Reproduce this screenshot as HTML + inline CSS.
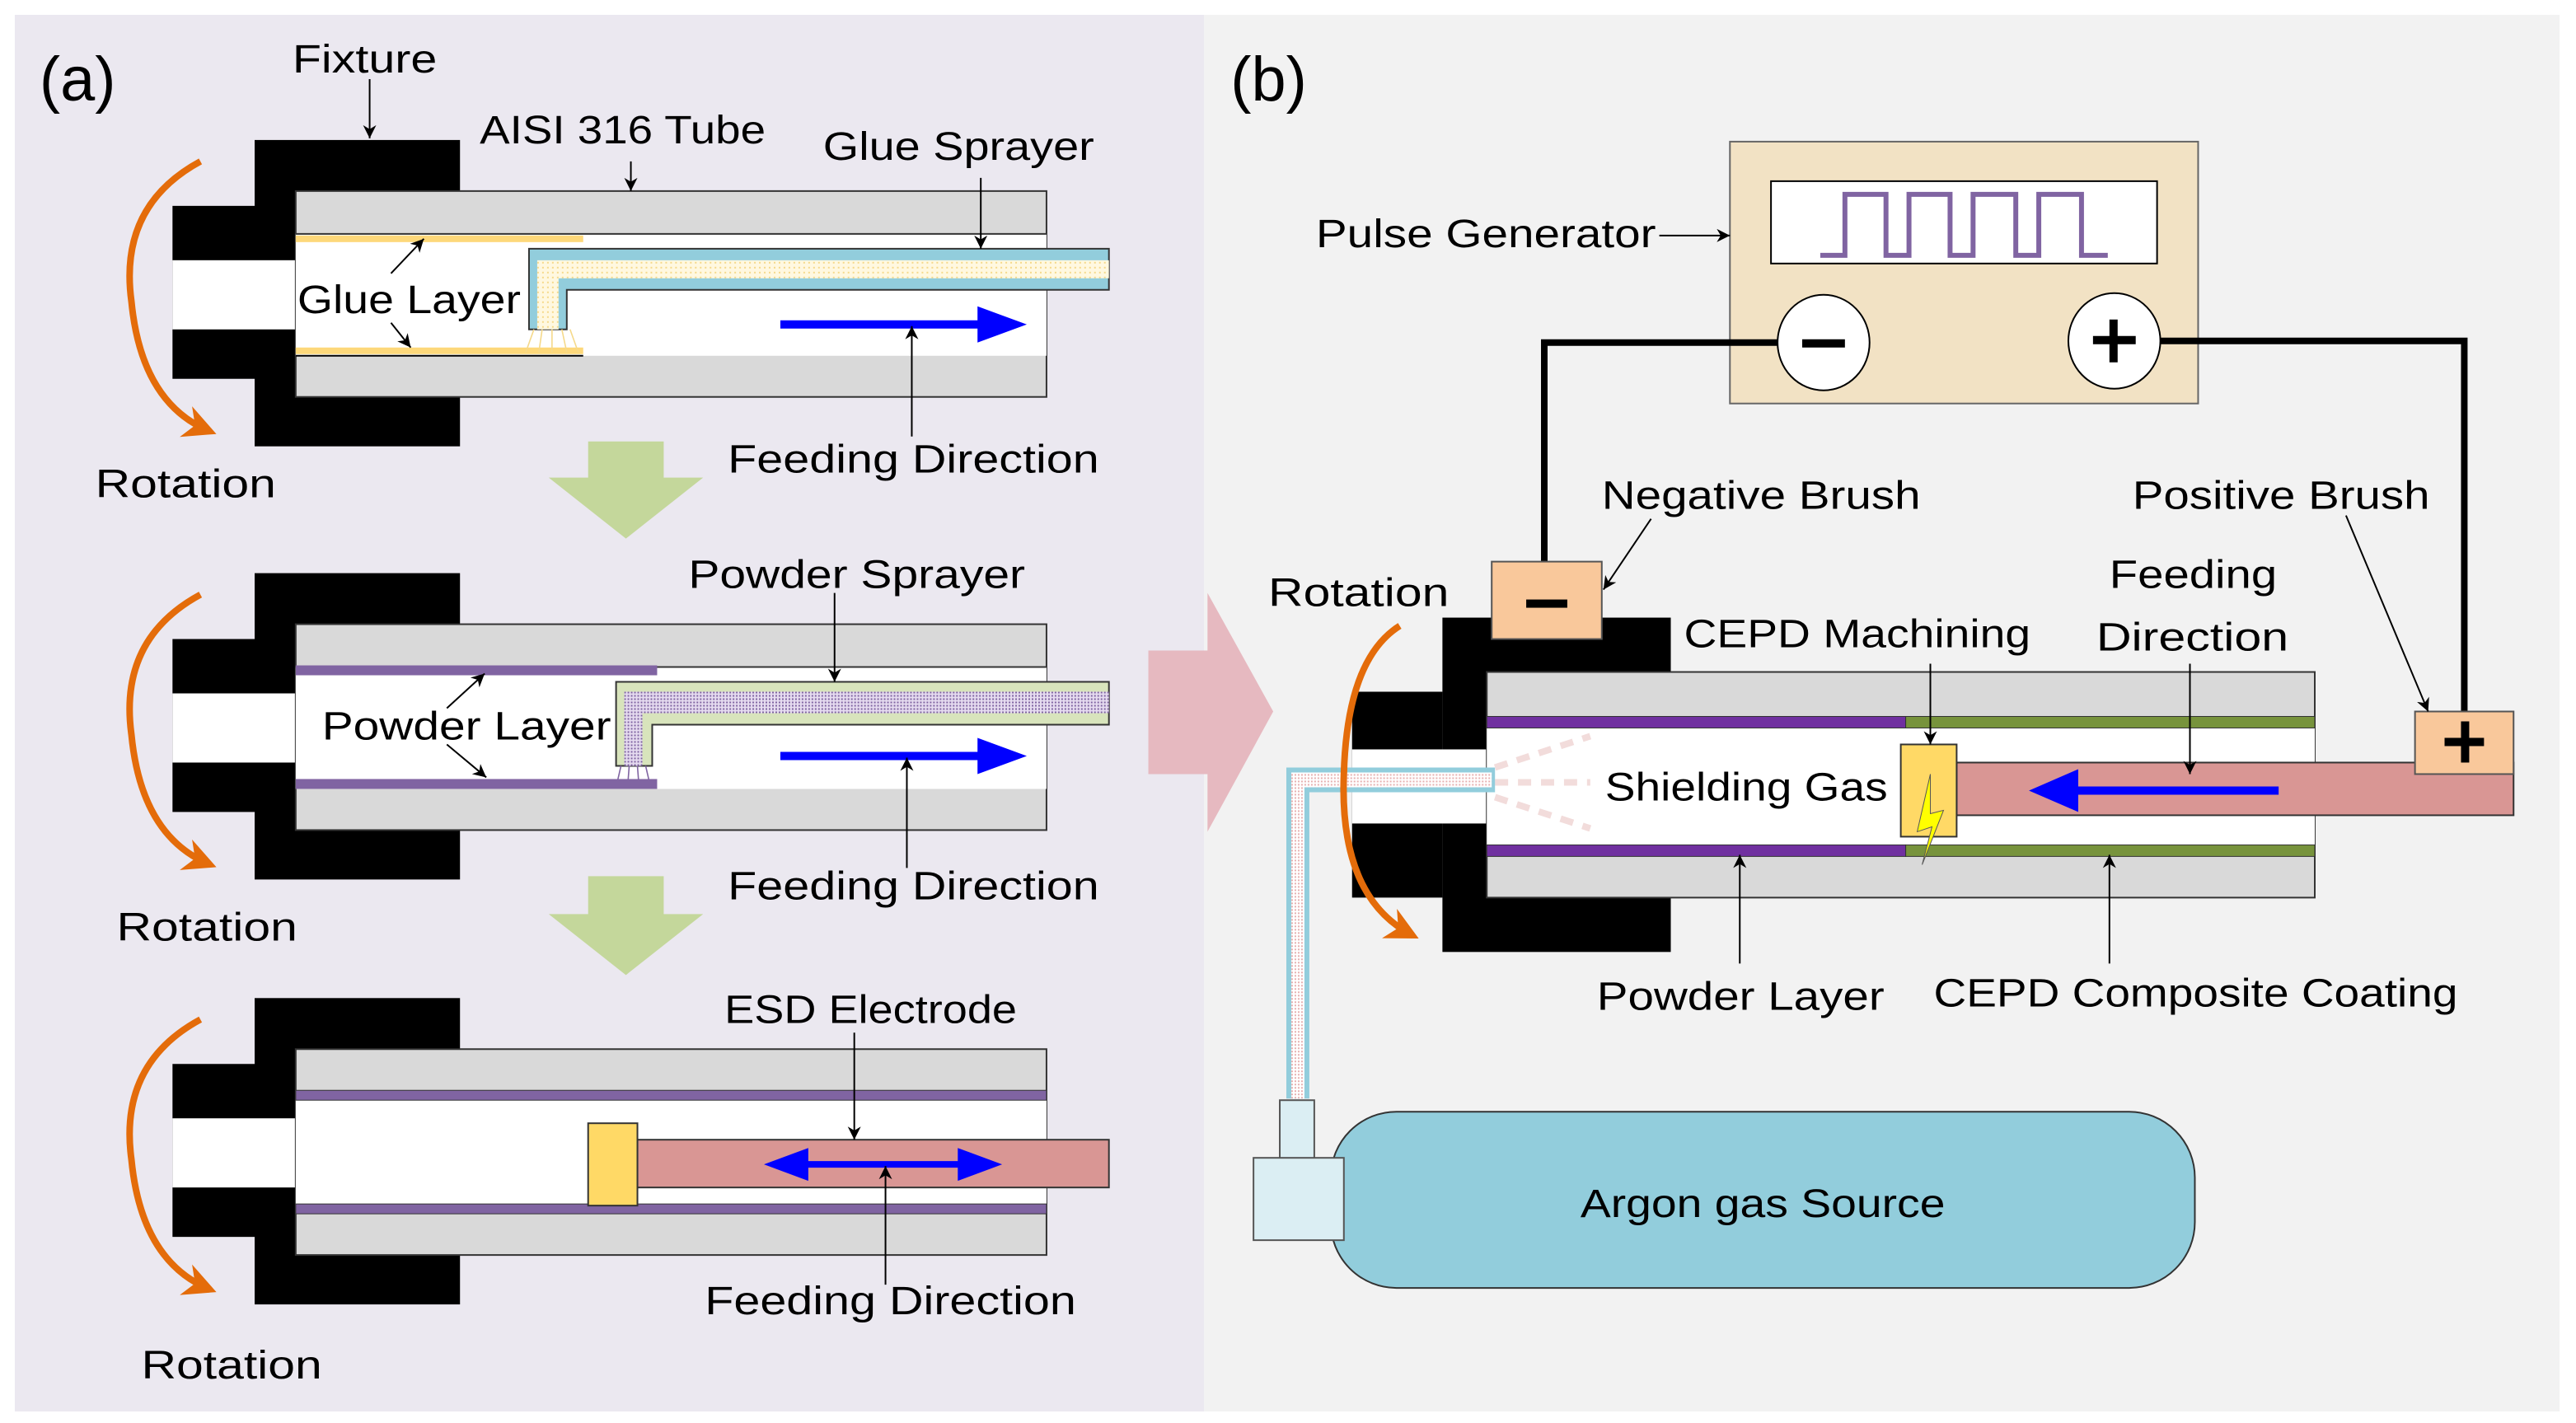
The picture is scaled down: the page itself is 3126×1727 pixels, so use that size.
<!DOCTYPE html>
<html><head><meta charset="utf-8"><style>
html,body{margin:0;padding:0;background:#fff;}
svg{display:block;}
text{font-family:"Liberation Sans",sans-serif;font-size:24px;fill:#000;}
</style></head><body>
<svg width="3126" height="1727" viewBox="0 0 1568 864" preserveAspectRatio="none" xmlns="http://www.w3.org/2000/svg">
<defs>
<marker id="ah" viewBox="0 0 10 10" refX="10" refY="5" markerWidth="8" markerHeight="10" orient="auto" markerUnits="userSpaceOnUse"><path d="M0,0 L10,5 L0,10 L3,5 z" fill="#000"/></marker>
<marker id="oh" viewBox="0 0 10 10" refX="8" refY="5" markerWidth="20" markerHeight="20" orient="auto" markerUnits="userSpaceOnUse"><path d="M0,0 L10,5 L0,10 L3,5 z" fill="#e46c0a"/></marker>
<pattern id="dots" width="3" height="3" patternUnits="userSpaceOnUse"><rect width="3" height="3" fill="#fff8e0"/><rect width="1" height="1" fill="#f5d98a"/></pattern>
<pattern id="pdots" width="2" height="2" patternUnits="userSpaceOnUse"><rect width="2" height="2" fill="#e6dcf0"/><rect width="1" height="1" fill="#8064a2"/></pattern>
<pattern id="rdots" width="2" height="2" patternUnits="userSpaceOnUse"><rect width="2" height="2" fill="#fff"/><rect width="1" height="1" fill="#e6b0b0"/></pattern>
<g id="fix">
<rect x="155" y="85" width="125" height="186" fill="#000"/>
<rect x="105" y="125" width="60" height="105" fill="#000"/>
<rect x="105" y="158" width="76" height="42" fill="#fff"/>
<path d="M122,98 Q72,125 80,183 Q86,245 128,262" fill="none" stroke="#e46c0a" stroke-width="4" marker-end="url(#oh)"/>
</g>
<g id="tube">
<rect x="180" y="116" width="457" height="125" fill="#d9d9d9" stroke="#333" stroke-width="1"/>
<rect x="180" y="142" width="457" height="74" fill="#fff"/>
<line x1="180" y1="142" x2="637" y2="142" stroke="#333" stroke-width="1"/>
</g>
</defs>
<rect x="0" y="0" width="1568" height="864" fill="#fff"/>
<rect x="9" y="9" width="724" height="848" fill="#ebe8f0"/>
<rect x="733" y="9" width="825" height="848" fill="#f2f2f2"/>

<use href="#fix"/>
<use href="#tube"/>
<rect x="180" y="143" width="175" height="4" fill="#fdd87a"/>
<rect x="180" y="211" width="175" height="4" fill="#fdd87a"/>
<line x1="180" y1="216" x2="355" y2="216" stroke="#000" stroke-width="1"/>
<path d="M322,151 H675 V176 H345 V200 H322 Z" fill="#92cddc" stroke="#333" stroke-width="1"/>
<path d="M327,158 H675 V169 H340 V200 H327 Z" fill="url(#dots)"/>
<g stroke="#f5d98a" stroke-width="0.8"><line x1="325" y1="200" x2="320" y2="214"/><line x1="330" y1="200" x2="328" y2="214"/><line x1="336" y1="200" x2="336" y2="214"/><line x1="342" y1="200" x2="345" y2="214"/><line x1="347" y1="200" x2="352" y2="214"/></g>
<line x1="475" y1="197" x2="598" y2="197" stroke="#0000ff" stroke-width="5"/>
<path d="M595,186 L625,197 L595,208 Z" fill="#0000ff"/>
<line x1="225" y1="48" x2="225" y2="84" stroke="#000" marker-end="url(#ah)"/>
<line x1="384" y1="98" x2="384" y2="116" stroke="#000" marker-end="url(#ah)"/>
<line x1="597" y1="108" x2="597" y2="151" stroke="#000" marker-end="url(#ah)"/>
<line x1="555" y1="265" x2="555" y2="198" stroke="#000" marker-end="url(#ah)"/>
<line x1="238" y1="166" x2="258" y2="145" stroke="#000" marker-end="url(#ah)"/>
<line x1="238" y1="196" x2="250" y2="211" stroke="#000" marker-end="url(#ah)"/>
<text x="24" y="61" style="font-size:38px">(a)</text>
<text x="178" y="44" textLength="88" lengthAdjust="spacingAndGlyphs">Fixture</text>
<text x="292" y="87" textLength="174" lengthAdjust="spacingAndGlyphs">AISI 316 Tube</text>
<text x="501" y="97" textLength="165" lengthAdjust="spacingAndGlyphs">Glue Sprayer</text>
<text x="181" y="190" textLength="136" lengthAdjust="spacingAndGlyphs">Glue Layer</text>
<text x="443" y="287" textLength="226" lengthAdjust="spacingAndGlyphs">Feeding Direction</text>
<text x="58" y="302" textLength="110" lengthAdjust="spacingAndGlyphs">Rotation</text>

<path d="M358,268 H404 V290 H428 L381,327 L334,290 H358 Z" fill="#c4d79b"/>
<path d="M358,532 H404 V555 H428 L381,592 L334,555 H358 Z" fill="#c4d79b"/>

<g transform="translate(0,263)"><use href="#fix"/><use href="#tube"/></g>
<rect x="180" y="404" width="220" height="6" fill="#8064a2"/>
<rect x="180" y="473" width="220" height="6" fill="#8064a2"/>
<path d="M375,414 H675 V440 H397 V465 H375 Z" fill="#d8e4bc" stroke="#333" stroke-width="1"/>
<path d="M380,420 H675 V433 H391 V465 H380 Z" fill="url(#pdots)"/>
<g stroke="#8064a2" stroke-width="0.8"><line x1="378" y1="465" x2="375" y2="478"/><line x1="383" y1="465" x2="382" y2="478"/><line x1="388" y1="465" x2="389" y2="478"/><line x1="393" y1="465" x2="396" y2="478"/></g>
<line x1="475" y1="459" x2="598" y2="459" stroke="#0000ff" stroke-width="5"/>
<path d="M595,448 L625,459 L595,470 Z" fill="#0000ff"/>
<line x1="508" y1="360" x2="508" y2="414" stroke="#000" marker-end="url(#ah)"/>
<line x1="552" y1="527" x2="552" y2="460" stroke="#000" marker-end="url(#ah)"/>
<line x1="272" y1="430" x2="295" y2="409" stroke="#000" marker-end="url(#ah)"/>
<line x1="272" y1="452" x2="296" y2="472" stroke="#000" marker-end="url(#ah)"/>
<text x="419" y="357" textLength="205" lengthAdjust="spacingAndGlyphs">Powder Sprayer</text>
<text x="196" y="449" textLength="176" lengthAdjust="spacingAndGlyphs">Powder Layer</text>
<text x="443" y="546" textLength="226" lengthAdjust="spacingAndGlyphs">Feeding Direction</text>
<text x="71" y="571" textLength="110" lengthAdjust="spacingAndGlyphs">Rotation</text>

<g transform="translate(0,521)"><use href="#fix"/><use href="#tube"/></g>
<rect x="180" y="662" width="457" height="6" fill="#8064a2" stroke="#333" stroke-width="0.5"/>
<rect x="180" y="731" width="457" height="6" fill="#8064a2" stroke="#333" stroke-width="0.5"/>
<rect x="388" y="692" width="287" height="29" fill="#d99694" stroke="#333" stroke-width="1"/>
<rect x="358" y="682" width="30" height="50" fill="#ffd966" stroke="#333" stroke-width="1"/>
<line x1="485" y1="707" x2="590" y2="707" stroke="#0000ff" stroke-width="4"/>
<path d="M492,697 L465,707 L492,717 Z" fill="#0000ff"/>
<path d="M583,697 L610,707 L583,717 Z" fill="#0000ff"/>
<line x1="520" y1="627" x2="520" y2="692" stroke="#000" marker-end="url(#ah)"/>
<line x1="539" y1="780" x2="539" y2="708" stroke="#000" marker-end="url(#ah)"/>
<text x="441" y="621" textLength="178" lengthAdjust="spacingAndGlyphs">ESD Electrode</text>
<text x="429" y="798" textLength="226" lengthAdjust="spacingAndGlyphs">Feeding Direction</text>
<text x="86" y="837" textLength="110" lengthAdjust="spacingAndGlyphs">Rotation</text>

<path d="M699,395 H735 V360 L775,432 L735,505 V470 H699 Z" fill="#e6b9c0"/>

<text x="749" y="61" style="font-size:38px">(b)</text>
<rect x="1053" y="86" width="285" height="159" fill="#f2e2c4" stroke="#666" stroke-width="1"/>
<rect x="1078" y="110" width="235" height="50" fill="#fff" stroke="#000" stroke-width="1"/>
<path d="M1108,155 H1123 V118 H1148 V155 H1162 V118 H1187 V155 H1201 V118 H1227 V155 H1241 V118 H1267 V155 H1283" fill="none" stroke="#8064a2" stroke-width="3"/>
<path d="M1082,208 H940 V341" fill="none" stroke="#000" stroke-width="4"/>
<path d="M1315,207 H1500 V432" fill="none" stroke="#000" stroke-width="4"/>
<ellipse cx="1110" cy="208" rx="28" ry="29" fill="#fff" stroke="#000" stroke-width="1"/>
<rect x="1097" y="206" width="26" height="5" fill="#000"/>
<ellipse cx="1287" cy="207" rx="28" ry="29" fill="#fff" stroke="#000" stroke-width="1"/>
<rect x="1274" y="204" width="26" height="5" fill="#000"/><rect x="1284" y="194" width="5" height="26" fill="#000"/>
<line x1="1010" y1="143" x2="1053" y2="143" stroke="#000" marker-end="url(#ah)"/>
<text x="801" y="150" textLength="207" lengthAdjust="spacingAndGlyphs">Pulse Generator</text>

<rect x="878" y="375" width="139" height="203" fill="#000"/>
<rect x="823" y="420" width="55" height="125" fill="#000"/>
<rect x="823" y="455" width="82" height="45" fill="#fff"/>
<rect x="905" y="408" width="504" height="137" fill="#d9d9d9" stroke="#333" stroke-width="1"/>
<rect x="905" y="442" width="504" height="71" fill="#fff"/>
<rect x="905" y="435" width="255" height="7" fill="#7030a0" stroke="#333" stroke-width="0.5"/>
<rect x="1160" y="435" width="249" height="7" fill="#77933c" stroke="#333" stroke-width="0.5"/>
<rect x="905" y="513" width="255" height="7" fill="#7030a0" stroke="#333" stroke-width="0.5"/>
<rect x="1160" y="513" width="249" height="7" fill="#77933c" stroke="#333" stroke-width="0.5"/>
<rect x="908" y="341" width="67" height="47" fill="#f9c89b" stroke="#555" stroke-width="1"/>
<rect x="929" y="364" width="25" height="5" fill="#000"/>
<g stroke="#f2dcdb" stroke-width="4" stroke-dasharray="8,6"><line x1="910" y1="466" x2="968" y2="447"/><line x1="910" y1="475" x2="968" y2="475"/><line x1="910" y1="484" x2="968" y2="503"/></g>
<path d="M783,667 V466 H910 V481 H797 V667 Z" fill="#92cddc"/>
<path d="M786,667 V469 H908 V478 H794 V667 Z" fill="url(#rdots)"/>
<rect x="1191" y="463" width="339" height="32" fill="#d99694" stroke="#333" stroke-width="1"/>
<rect x="1157" y="452" width="34" height="56" fill="#ffd966" stroke="#333" stroke-width="1"/>
<path d="M1175,470 L1167,505 L1176,502 L1170,525 L1183,492 L1175,494 Z" fill="#ffff00" stroke="#555" stroke-width="0.5"/>
<line x1="1262" y1="480" x2="1387" y2="480" stroke="#0000ff" stroke-width="5"/>
<path d="M1265,467 L1235,480 L1265,493 Z" fill="#0000ff"/>
<rect x="1470" y="432" width="60" height="38" fill="#f9c89b" stroke="#555" stroke-width="1"/>
<rect x="1488" y="448" width="24" height="5" fill="#000"/><rect x="1498" y="438" width="5" height="25" fill="#000"/>
<path d="M852,380 Q820,400 818,470 Q815,545 860,568" fill="none" stroke="#e46c0a" stroke-width="4" marker-end="url(#oh)"/>
<line x1="1005" y1="315" x2="976" y2="358" stroke="#000" marker-end="url(#ah)"/>
<line x1="1428" y1="313" x2="1478" y2="432" stroke="#000" marker-end="url(#ah)"/>
<line x1="1175" y1="403" x2="1175" y2="452" stroke="#000" marker-end="url(#ah)"/>
<line x1="1333" y1="403" x2="1333" y2="470" stroke="#000" marker-end="url(#ah)"/>
<line x1="1059" y1="585" x2="1059" y2="519" stroke="#000" marker-end="url(#ah)"/>
<line x1="1284" y1="585" x2="1284" y2="519" stroke="#000" marker-end="url(#ah)"/>
<rect x="810" y="675" width="526" height="107" rx="40" ry="40" fill="#92cddc" stroke="#333" stroke-width="1"/>
<rect x="779" y="668" width="21" height="36" fill="#dbeef3" stroke="#555" stroke-width="1"/>
<rect x="763" y="703" width="55" height="50" fill="#dbeef3" stroke="#555" stroke-width="1"/>
<text x="975" y="309" textLength="194" lengthAdjust="spacingAndGlyphs">Negative Brush</text>
<text x="1298" y="309" textLength="181" lengthAdjust="spacingAndGlyphs">Positive Brush</text>
<text x="772" y="368" textLength="110" lengthAdjust="spacingAndGlyphs">Rotation</text>
<text x="1025" y="393" textLength="211" lengthAdjust="spacingAndGlyphs">CEPD Machining</text>
<text x="1284" y="357" textLength="102" lengthAdjust="spacingAndGlyphs">Feeding</text>
<text x="1276" y="395" textLength="117" lengthAdjust="spacingAndGlyphs">Direction</text>
<text x="977" y="486" textLength="172" lengthAdjust="spacingAndGlyphs">Shielding Gas</text>
<text x="972" y="613" textLength="175" lengthAdjust="spacingAndGlyphs">Powder Layer</text>
<text x="1177" y="611" textLength="319" lengthAdjust="spacingAndGlyphs">CEPD Composite Coating</text>
<text x="962" y="739" textLength="222" lengthAdjust="spacingAndGlyphs">Argon gas Source</text>
</svg>
</body></html>
